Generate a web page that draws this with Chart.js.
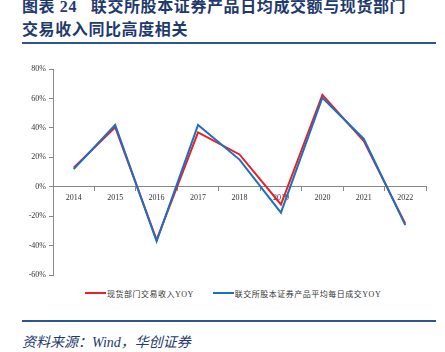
<!DOCTYPE html>
<html>
<head>
<meta charset="utf-8">
<script src="https://cdn.jsdelivr.net/npm/chart.js@4/dist/chart.umd.min.js"></script>
<style>
  body { margin: 0; background: #fff; width: 445px; height: 352px; overflow: hidden; position: relative; }
  .title {
    position: absolute; left: 22px; top: -5px;
    font-family: "Liberation Serif", "Noto Sans CJK SC", serif;
    font-weight: bold; font-size: 16px; line-height: 23px;
    color: #1f3a6e; letter-spacing: 0.6px;
  }
  .rule { position: absolute; left: 22px; width: 414px; height: 2px; background: #2e558f; }
  .source {
    position: absolute; left: 22px; top: 331px;
    font-family: "Liberation Serif", "Noto Sans CJK SC", serif;
    font-style: italic; font-size: 14px; color: #1f3a6e;
  }
  #wrap { position: absolute; left: 0; top: 55px; width: 445px; height: 228px; }
  #legend {
    position: absolute; left: 85px; top: 287px; height: 12px;
    display: flex; align-items: center;
    font-family: "Liberation Serif", "Noto Sans CJK SC", serif;
    font-size: 8px; color: #333; white-space: nowrap; letter-spacing: 0.5px;
  }
  #legend .item { display: flex; align-items: center; margin-right: 19px; }
  #legend .swatch { width: 21px; height: 2px; margin-right: 1px; }
</style>
</head>
<body>
<div class="title">图表 24&nbsp;&nbsp;&nbsp;联交所股本证券产品日均成交额与现货部门<br>交易收入同比高度相关</div>
<div class="rule" style="top:42px"></div>
<div id="wrap"><canvas id="c"></canvas></div>
<div id="legend"></div>
<div class="rule" style="top:320px"></div>
<div class="source">资料来源：Wind，华创证券</div>
<script>
// ===== DATA =====
const years = ["2014", "2015", "2016", "2017", "2018", "2019", "2020", "2021", "2022"];
const spotIncomeYoy = [13, 40.5, -36, 37, 22, -12, 62.5, 31, -25];      // 现货部门交易收入YOY
const equityTurnoverYoy = [12, 42, -37, 42, 18.5, -17.5, 60.5, 32.5, -26]; // 联交所股本证券产品平均每日成交YOY

const serif = "'Liberation Serif', 'Noto Sans CJK SC', serif";

const chart = new Chart(document.getElementById("c"), {
  type: "line",
  data: {
    labels: years,
    datasets: [
      {
        label: "现货部门交易收入YOY",
        data: spotIncomeYoy,
        borderColor: "#e8202a",
        backgroundColor: "#e8202a",
        borderWidth: 2,
        pointRadius: 0,
        tension: 0,
        order: 1
      },
      {
        label: "联交所股本证券产品平均每日成交YOY",
        data: equityTurnoverYoy,
        borderColor: "#1f6fc0",
        backgroundColor: "#1f6fc0",
        borderWidth: 2,
        pointRadius: 0,
        tension: 0,
        order: 0
      }
    ]
  },
  options: {
    responsive: true,
    maintainAspectRatio: false,
    animation: false,
    layout: { padding: { left: 0, right: 19, top: 14, bottom: 4 } },
    plugins: {
      tooltip: { enabled: false },
      legend: { display: false }
    },
    scales: {
      x: {
        position: { y: 0 },
        offset: true,
        grid: { offset: true, drawOnChartArea: false, drawTicks: true, tickLength: 4, color: "#888" },
        border: { color: "#888", width: 1 },
        ticks: { color: "#333", font: { family: serif, size: 8 }, padding: 2 }
      },
      y: {
        min: -60,
        max: 80,
        afterFit: s => { s.width = 53; },
        grid: { drawOnChartArea: false, drawTicks: true, tickLength: 4, color: "#888" },
        border: { color: "#888", width: 1 },
        ticks: {
          stepSize: 20,
          color: "#333",
          padding: 3,
          font: { family: serif, size: 8 },
          callback: v => v + "%"
        }
      }
    }
  }
});

// legend built from the chart's datasets
const legendEl = document.getElementById("legend");
chart.data.datasets.forEach(ds => {
  const item = document.createElement("div");
  item.className = "item";
  const sw = document.createElement("span");
  sw.className = "swatch";
  sw.style.background = ds.borderColor;
  const txt = document.createElement("span");
  txt.textContent = ds.label;
  item.appendChild(sw);
  item.appendChild(txt);
  legendEl.appendChild(item);
});
</script>
</body>
</html>
